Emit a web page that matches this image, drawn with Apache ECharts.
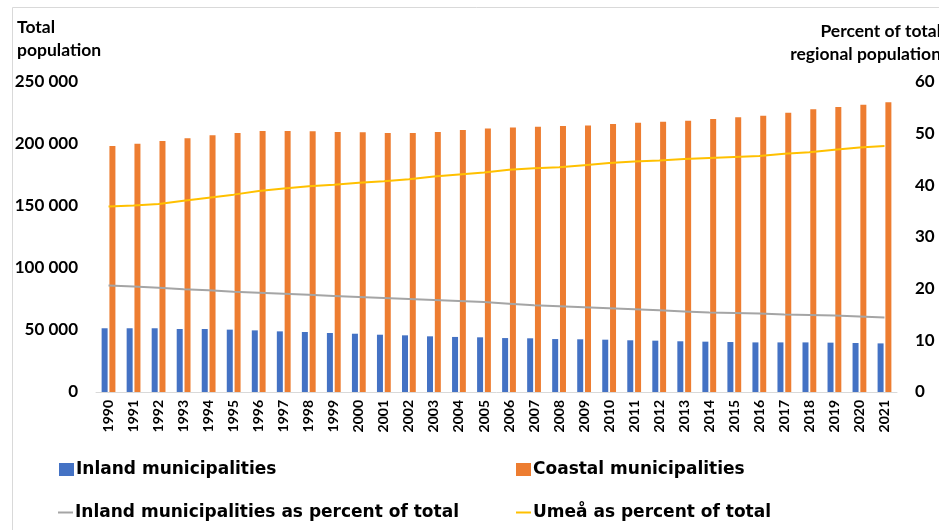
<!DOCTYPE html>
<html>
<head>
<meta charset="utf-8">
<title>Population by municipality type</title>
<script src="https://cdn.jsdelivr.net/npm/echarts@6/dist/echarts.min.js"></script>
<style>
  html, body { margin: 0; padding: 0; background: #fff; }
  #chart { width: 939px; height: 530px; }
</style>
</head>
<body>
<div id="chart"></div>
<script>
// years on the x axis
var years = ['1990','1991','1992','1993','1994','1995','1996','1997','1998','1999',
  '2000','2001','2002','2003','2004','2005','2006','2007','2008','2009',
  '2010','2011','2012','2013','2014','2015','2016','2017','2018','2019','2020','2021'];

// total population (left axis)
var inland = [51400,51400,51400,50800,50800,50300,49700,48900,48400,47600,
  47000,46200,45700,44900,44400,44100,43500,43300,42700,42500,
  42200,41700,41400,40900,40600,40300,40000,40000,40000,39800,39500,39200];
var coastal = [198400,200200,202400,204600,207000,208900,210500,210500,210200,209700,
  209400,208900,208900,209700,211300,212400,213400,213900,214500,215000,
  216100,217200,218000,218800,220200,221500,222800,225300,228000,229800,231700,233600];

// percent of total regional population (right axis)
var inlandPct = [20.6,20.4,20.2,19.9,19.7,19.4,19.2,19.0,18.8,18.6,
  18.4,18.2,18.0,17.8,17.6,17.4,17.1,16.8,16.6,16.4,
  16.2,16.0,15.8,15.6,15.4,15.3,15.2,15.0,14.9,14.8,14.6,14.4];
var umeaPct = [35.9,36.1,36.4,37.0,37.6,38.2,38.9,39.4,39.8,40.1,
  40.5,40.8,41.2,41.7,42.1,42.5,43.0,43.3,43.5,43.9,
  44.3,44.6,44.8,45.1,45.3,45.5,45.7,46.1,46.4,46.9,47.3,47.6];

var FONT = 'Lato';
var txt = { fontFamily: FONT, fontWeight: 'bold', color: '#000' };

function spaced(v) {
  return String(v).replace(/\B(?=(\d{3})+(?!\d))/g, ' ');
}

// one legend per item so each can sit where the original has it
function legendAt(name, left, top, isLine) {
  return {
    data: [name],
    left: left,
    top: top,
    padding: 0,
    icon: 'rect',
    itemWidth: 15,
    itemHeight: isLine ? 2 : 13,
    itemGap: 0,
    selectedMode: false,
    textStyle: { fontFamily: 'DejaVu Sans', fontWeight: 'bold', color: '#000',
      fontSize: 17, padding: [0, 0, 0, -3] }
  };
}

var chart = echarts.init(document.getElementById('chart'));

chart.setOption({
  animation: false,
  backgroundColor: '#fff',
  grid: { left: 96, right: 42, top: 82, bottom: 138 },
  graphic: [
    {
      type: 'rect',
      shape: { x: 12.5, y: 7.5, width: 960, height: 560 },
      style: { fill: 'none', stroke: '#d9d9d9', lineWidth: 1 },
      silent: true
    },
    {
      type: 'text', left: 17, top: 16,
      style: { text: 'Total\npopulation', fontSize: 17.5, lineHeight: 23, fill: '#000',
        fontFamily: FONT, fontWeight: 'bold' }
    },
    {
      type: 'text', x: 941, y: 20,
      style: { text: 'Percent of total\nregional population', align: 'right',
        fontSize: 17.5, lineHeight: 23, fill: '#000', fontFamily: FONT, fontWeight: 'bold' }
    }
  ],
  legend: [
    legendAt('Inland municipalities', 59, 461, false),
    legendAt('Coastal municipalities', 516, 461, false),
    legendAt('Inland municipalities as percent of total', 58, 504, true),
    legendAt('Umeå as percent of total', 516, 504, true)
  ],
  xAxis: {
    type: 'category',
    data: years,
    axisLine: { lineStyle: { color: '#d9d9d9', width: 1 } },
    axisTick: { show: false },
    axisLabel: Object.assign({ rotate: 90, fontSize: 14, margin: 8, interval: 0 }, txt)
  },
  yAxis: [
    {
      type: 'value', min: 0, max: 250000, interval: 50000,
      splitLine: { show: false },
      axisLine: { show: false },
      axisTick: { show: false },
      axisLabel: Object.assign({ fontSize: 17, margin: 18, formatter: spaced }, txt)
    },
    {
      type: 'value', min: 0, max: 60, interval: 10,
      splitLine: { show: false },
      axisLine: { show: false },
      axisTick: { show: false },
      axisLabel: Object.assign({ fontSize: 17, margin: 18 }, txt)
    }
  ],
  series: [
    {
      name: 'Inland municipalities', type: 'bar', data: inland,
      barWidth: 6, barGap: '30%',
      itemStyle: { color: '#4472C4' }
    },
    {
      name: 'Coastal municipalities', type: 'bar', data: coastal,
      barWidth: 6,
      itemStyle: { color: '#ED7D31' }
    },
    {
      name: 'Inland municipalities as percent of total', type: 'line', yAxisIndex: 1,
      data: inlandPct, showSymbol: false, symbol: 'none', z: 5,
      lineStyle: { color: '#A5A5A5', width: 2 }, itemStyle: { color: '#A5A5A5' }
    },
    {
      name: 'Umeå as percent of total', type: 'line', yAxisIndex: 1,
      data: umeaPct, showSymbol: false, symbol: 'none', z: 5,
      lineStyle: { color: '#FFC000', width: 2 }, itemStyle: { color: '#FFC000' }
    }
  ]
});
</script>
</body>
</html>
